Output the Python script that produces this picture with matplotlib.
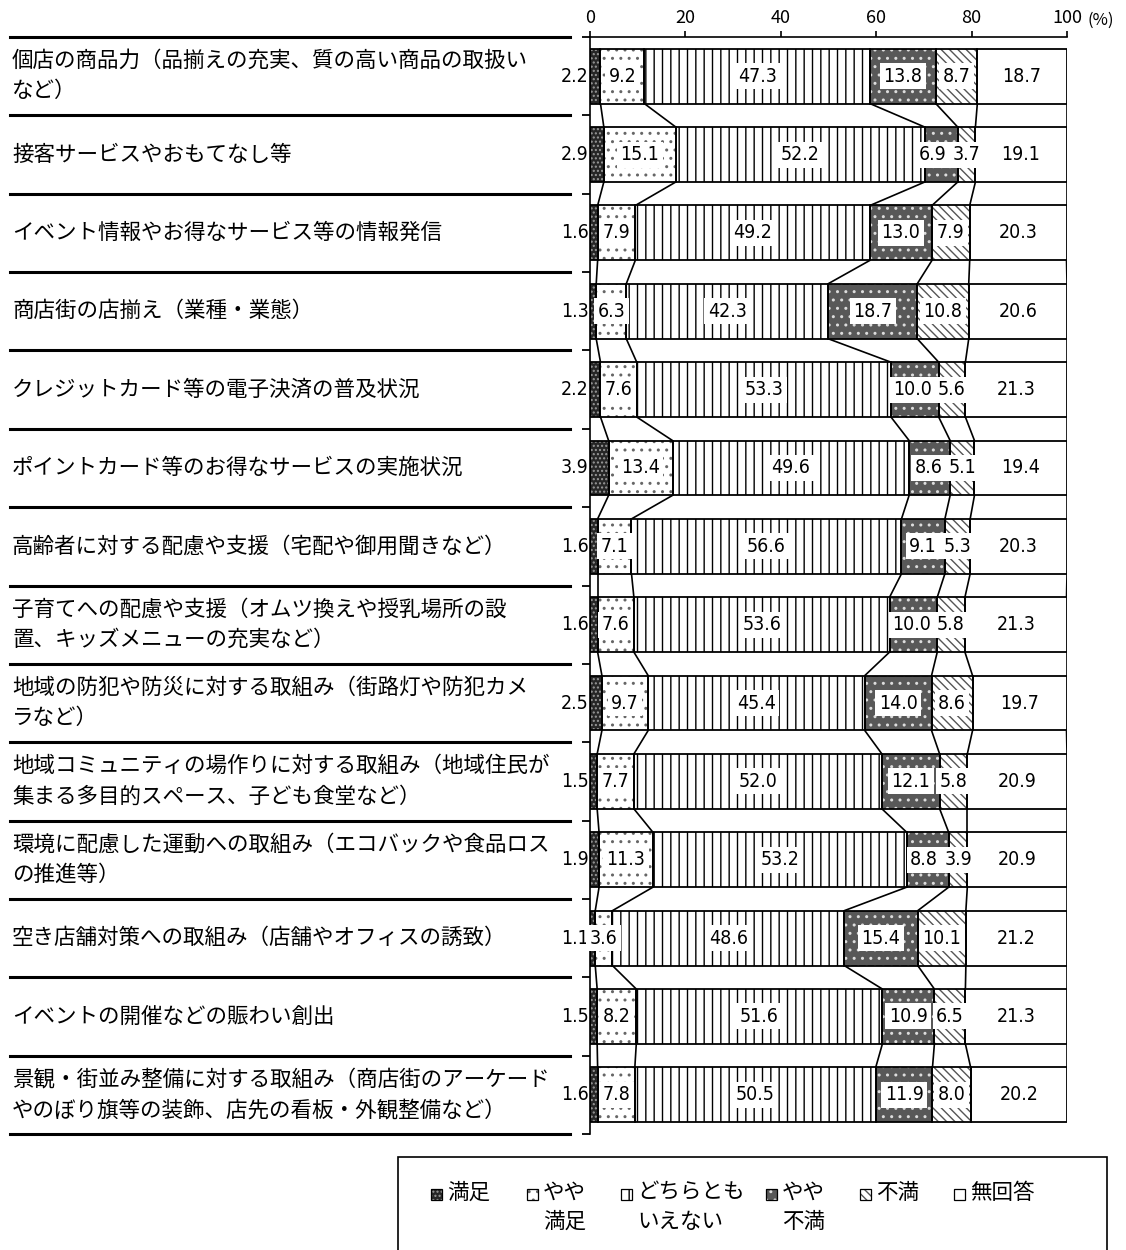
import numpy as np
import matplotlib
matplotlib.use("Agg")
import matplotlib.pyplot as plt
from matplotlib import font_manager as fm
from matplotlib.patches import Rectangle
from matplotlib.lines import Line2D
from matplotlib.transforms import blended_transform_factory

plt.rcParams['font.family'] = ['Noto Sans CJK JP', 'DejaVu Sans']
plt.rcParams['hatch.linewidth'] = 1.0

# ---------------- data ----------------
categories = [
    "個店の商品力（品揃えの充実、質の高い商品の取扱い\nなど）",
    "接客サービスやおもてなし等",
    "イベント情報やお得なサービス等の情報発信",
    "商店街の店揃え（業種・業態）",
    "クレジットカード等の電子決済の普及状況",
    "ポイントカード等のお得なサービスの実施状況",
    "高齢者に対する配慮や支援（宅配や御用聞きなど）",
    "子育てへの配慮や支援（オムツ換えや授乳場所の設\n置、キッズメニューの充実など）",
    "地域の防犯や防災に対する取組み（街路灯や防犯カメ\nラなど）",
    "地域コミュニティの場作りに対する取組み（地域住民が\n集まる多目的スペース、子ども食堂など）",
    "環境に配慮した運動への取組み（エコバックや食品ロス\nの推進等）",
    "空き店舗対策への取組み（店舗やオフィスの誘致）",
    "イベントの開催などの賑わい創出",
    "景観・街並み整備に対する取組み（商店街のアーケード\nやのぼり旗等の装飾、店先の看板・外観整備など）",
]
series_names = ["満足", "やや\n満足", "どちらとも\nいえない", "やや\n不満", "不満", "無回答"]

manzoku      = [2.2, 2.9, 1.6, 1.3, 2.2, 3.9, 1.6, 1.6, 2.5, 1.5, 1.9, 1.1, 1.5, 1.6]
yaya_manzoku = [9.2, 15.1, 7.9, 6.3, 7.6, 13.4, 7.1, 7.6, 9.7, 7.7, 11.3, 3.6, 8.2, 7.8]
dochiramo    = [47.3, 52.2, 49.2, 42.3, 53.3, 49.6, 56.6, 53.6, 45.4, 52.0, 53.2, 48.6, 51.6, 50.5]
yaya_fuman   = [13.8, 6.9, 13.0, 18.7, 10.0, 8.6, 9.1, 10.0, 14.0, 12.1, 8.8, 15.4, 10.9, 11.9]
fuman        = [8.7, 3.7, 7.9, 10.8, 5.6, 5.1, 5.3, 5.8, 8.6, 5.8, 3.9, 10.1, 6.5, 8.0]
mukaitou     = [18.7, 19.1, 20.3, 20.6, 21.3, 19.4, 20.3, 21.3, 19.7, 20.9, 20.9, 21.2, 21.3, 20.2]

xticks = [0, 20, 40, 60, 80, 100]

# ---------------- styles ----------------
styles = [
    dict(face='#262626', hatch='....', hcol='#9a9a9a'),
    dict(face='white', hatch='..', hcol='#666666'),
    dict(face='white', hatch='||', hcol='black'),
    dict(face='#585858', hatch='..', hcol='#dddddd'),
    dict(face='white', hatch='\\\\\\\\', hcol='#555555'),
    dict(face='white', hatch='', hcol='white'),
]

# numeric label font: a narrow face if one is installed
num_prop = None
for f in fm.fontManager.ttflist:
    if 'Liberation Sans Narrow' in f.name and f.weight in (400, 'normal', 'regular') and f.style == 'normal':
        num_prop = fm.FontProperties(fname=f.fname, size=15.5)
        break
if num_prop is None:
    for f in fm.fontManager.ttflist:
        if f.name == 'DejaVu Sans' and f.stretch == 'condensed' and f.style == 'normal' \
                and f.weight in (400, 'normal', 'regular'):
            num_prop = fm.FontProperties(fname=f.fname, size=14)
            break
if num_prop is None:
    num_prop = fm.FontProperties(family='Noto Sans CJK JP', size=14)

W, H = 1126, 1250
fig = plt.figure(figsize=(W / 100, H / 100), dpi=100)
fx = lambda px: px / W
fy = lambda py: 1 - py / H

ax = fig.add_axes([fx(590), fy(1134), fx(1067) - fx(590), fy(37) - fy(1134)])

data = np.array([manzoku, yaya_manzoku, dochiramo, yaya_fuman, fuman, mukaitou])
n = len(categories)
y = np.arange(n)
bar_h = 0.7
lefts = np.zeros(n)
cums = []
labels = [[None] * data.shape[0] for _ in range(n)]
for j in range(data.shape[0]):
    st = styles[j]
    ax.barh(y, data[j], left=lefts, height=bar_h, color=st['face'],
            edgecolor=st['hcol'], hatch=st['hatch'], linewidth=0, zorder=2)
    ax.barh(y, data[j], left=lefts, height=bar_h, fill=False,
            edgecolor='black', linewidth=1.3, zorder=3)
    for i in range(n):
        v = data[j][i]
        if j == 0:
            t = ax.text(-0.3, i, f"{v:.1f}", ha='right', va='center',
                        fontproperties=num_prop, zorder=6)
        else:
            bb = dict(facecolor='white', edgecolor='none', pad=2.5) if j < 5 else None
            t = ax.text(lefts[i] + v / 2, i, f"{v:.1f}", ha='center', va='center',
                        fontproperties=num_prop, bbox=bb, zorder=6)
        labels[i][j] = t
    lefts = lefts + data[j]
    cums.append(lefts.copy())

# series lines
for c in cums:
    for i in range(n - 1):
        ax.plot([c[i], c[i + 1]], [i + bar_h / 2, i + 1 - bar_h / 2],
                color='black', lw=1.2, zorder=1.5, solid_capstyle='butt')

# axes styling
ax.set_xlim(0, 100)
ax.set_ylim(n - 0.5, -0.5)
ax.xaxis.tick_top()
ax.set_xticks(xticks)
ax.set_xticklabels([str(t) for t in xticks])
ax.tick_params(axis='x', top=True, bottom=False, direction='out', length=4,
               width=1.2, labelsize=13, pad=3)
bounds = np.arange(-0.5, n, 1.0)
ax.set_yticks(bounds)
ax.set_yticklabels([])
ax.tick_params(axis='y', left=True, direction='out', length=6, width=1.3)
for s in ['right', 'bottom']:
    ax.spines[s].set_visible(False)
for s in ['left', 'top']:
    ax.spines[s].set_linewidth(1.2)

ax.annotate("(%)", xy=(100, 1), xycoords=('data', 'axes fraction'),
            xytext=(15, 6), textcoords='offset points', ha='left', va='bottom',
            fontsize=12)

# category labels and separators
blend = blended_transform_factory(fig.transFigure, ax.transData)
for i, lab in enumerate(categories):
    ax.text(fx(12), i, lab, transform=blend, ha='left', va='center',
            fontsize=15.5, linespacing=1.5, clip_on=False)
for b in bounds:
    ax.add_line(Line2D([fx(10), fx(570)], [b, b], transform=blend,
                       color='black', lw=2.2, clip_on=False))

ax.set_xlim(0, 100)
ax.set_ylim(n - 0.5, -0.5)

# nudge value labels that would collide with their right neighbour
fig.canvas.draw()
r = fig.canvas.get_renderer()
px_per_unit = ax.transData.transform((1, 0))[0] - ax.transData.transform((0, 0))[0]
for i in range(n):
    for j in range(4, 0, -1):
        a, b = labels[i][j], labels[i][j + 1]
        ea, eb = a.get_window_extent(r), b.get_window_extent(r)
        overlap = ea.x1 - eb.x0 + 6
        if overlap > 0:
            xa, ya = a.get_position()
            a.set_position((xa - overlap / px_per_unit, ya))

# legend (manual)
fig.add_artist(Rectangle((fx(398), fy(1253)), fx(1107) - fx(398), fy(1157) - fy(1253),
                         transform=fig.transFigure, fill=False, edgecolor='black', lw=1.2))
leg_x = [431, 527, 621, 766, 860, 954]
msz = 11
for j, name in enumerate(series_names):
    st = styles[j]
    mx = leg_x[j]
    fig.add_artist(Rectangle((fx(mx), fy(1194 + msz / 2)), msz / W, msz / H,
                             transform=fig.transFigure, facecolor=st['face'],
                             edgecolor=st['hcol'], hatch=st['hatch'], lw=0))
    fig.add_artist(Rectangle((fx(mx), fy(1194 + msz / 2)), msz / W, msz / H,
                             transform=fig.transFigure, fill=False,
                             edgecolor='black', lw=0.9))
    fig.text(fx(mx + 16), fy(1182), name, ha='left', va='top', fontsize=15.5,
             multialignment='left', linespacing=1.4)

fig.savefig("out.png", dpi=100)
